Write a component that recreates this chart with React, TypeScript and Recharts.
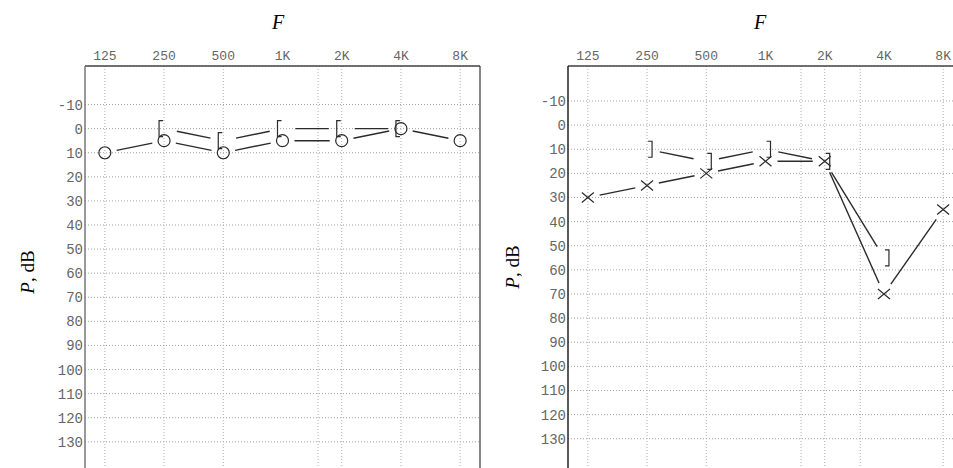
import React from "react"
import { LineChart, Line, XAxis, YAxis, CartesianGrid, ReferenceLine } from "recharts"

const freqLabels = ["125", "250", "500", "1K", "2K", "4K", "8K"]
const dbTicks = [-10, 0, 10, 20, 30, 40, 50, 60, 70, 80, 90, 100, 110, 120, 130]

// left audiogram: O = air, [ = bone
const leftAir = [10, 5, 10, 5, 5, 0, 5]
const leftBone = [null, 0, 5, 0, 0, 0, null]
// right audiogram: X = air, ] = bone
const rightAir = [30, 25, 20, 15, 15, 70, 35]
const rightBone = [null, 10, 15, 10, 15, 55, null]

// extra dotted verticals the form prints (half-octave lines)
const leftGridX = [0, 1, 2, 3.6, 4, 5, 6]
const rightGridX = [0, 1, 2, 3.6, 4, 4.6, 6]

const INK = "#2b2b2b"
const X_DOMAIN: [number, number] = [-0.335, 6.335]

type Sym = "circle" | "cross" | "lbracket" | "rbracket"

const drawSymbol = (sym: Sym, x: number, y: number) => {
  const common = { stroke: INK, strokeWidth: 1.2, fill: "none" }
  if (sym === "circle") return <circle cx={x} cy={y} r={6} {...common} />
  if (sym === "cross")
    return <path d={`M${x - 6},${y - 5}L${x + 6},${y + 5}M${x - 6},${y + 5}L${x + 6},${y - 5}`} {...common} />
  if (sym === "lbracket") return <path d={`M${x - 1},${y - 8}H${x - 5}V${y + 8}H${x - 1}`} {...common} />
  return <path d={`M${x + 1},${y - 8}H${x + 5}V${y + 8}H${x + 1}`} {...common} />
}

// each dot draws its symbol plus the segment to the next point, with a gap at both ends
const makeDot = (sym: Sym, gap: number) => (props: any) => {
  const { cx, cy, index, points, key } = props
  if (cx == null || cy == null || Number.isNaN(cy)) return <g key={key} />
  const next = points ? points[index + 1] : null
  let seg = null
  if (next && next.x != null && next.y != null && !Number.isNaN(next.y)) {
    const dx = next.x - cx
    const dy = next.y - cy
    const len = Math.hypot(dx, dy)
    if (len > gap * 2) {
      const ux = dx / len
      const uy = dy / len
      seg = (
        <line
          x1={cx + ux * gap}
          y1={cy + uy * gap}
          x2={next.x - ux * gap}
          y2={next.y - uy * gap}
          stroke={INK}
          strokeWidth={1.4}
        />
      )
    }
  }
  return (
    <g key={key}>
      {seg}
      {drawSymbol(sym, cx, cy)}
    </g>
  )
}

interface AudiogramProps {
  air: (number | null)[]
  bone: (number | null)[]
  airSym: Sym
  boneSym: Sym
  gridX: number[]
  yMin: number
  width: number
  height: number
  axisWidth: number
  marginRight: number
  titleX: number
  labelX: number
  labelY: number
  axisColor: string
  rightBorder?: boolean
}

const Audiogram: React.FC<AudiogramProps> = ({
  air,
  bone,
  airSym,
  boneSym,
  gridX,
  yMin,
  width,
  height,
  axisWidth,
  marginRight,
  titleX,
  labelX,
  labelY,
  axisColor,
  rightBorder,
}) => {
  const data = freqLabels.map((f, i) => ({ x: i, freq: f, air: air[i], bone: bone[i] }))
  return (
    <LineChart width={width} height={height} data={data} margin={{ top: 0, right: marginRight, left: 0, bottom: 10 }}>
      <CartesianGrid vertical={false} stroke="#a4a4a4" strokeDasharray="1 2" />
      {gridX.map((v) => (
        <ReferenceLine key={v} x={v} stroke="#b0b0b0" strokeDasharray="1 2" />
      ))}
      {rightBorder && <ReferenceLine x={X_DOMAIN[1]} stroke="#444" strokeWidth={1.3} />}
      <XAxis
        type="number"
        dataKey="x"
        orientation="top"
        domain={X_DOMAIN}
        ticks={[0, 1, 2, 3, 4, 5, 6]}
        tickFormatter={(v: number) => freqLabels[v] ?? ""}
        height={66}
        tickSize={0}
        tickMargin={6}
        axisLine={{ stroke: "#444", strokeWidth: 1.3 }}
        tick={{ fontSize: 13, fill: "#666", fontFamily: "Liberation Mono" }}
        allowDataOverflow
        label={{
          content: () => (
            <text x={titleX} y={29} textAnchor="middle" fontFamily="Liberation Serif" fontStyle="italic" fontSize={20} fill="#000">
              F
            </text>
          ),
        }}
      />
      <YAxis
        type="number"
        reversed
        domain={[yMin, 150]}
        ticks={dbTicks}
        width={axisWidth}
        tickSize={0}
        tickMargin={2}
        axisLine={{ stroke: axisColor, strokeWidth: 1.5 }}
        tick={{ fontSize: 14, fill: "#666", fontFamily: "Liberation Mono" }}
        allowDataOverflow
        label={{
          content: () => (
            <text
              x={labelX}
              y={labelY}
              transform={`rotate(-90, ${labelX}, ${labelY})`}
              textAnchor="middle"
              dominantBaseline="central"
              fontFamily="Liberation Serif"
              fontSize={19}
              fill="#000"
            >
              <tspan fontStyle="italic">P</tspan>
              <tspan>, dB</tspan>
            </text>
          ),
        }}
      />
      <Line
        type="linear"
        dataKey="air"
        stroke="none"
        isAnimationActive={false}
        dot={makeDot(airSym, 12)}
        activeDot={false}
      />
      <Line
        type="linear"
        dataKey="bone"
        stroke="none"
        isAnimationActive={false}
        dot={makeDot(boneSym, 13)}
        activeDot={false}
      />
    </LineChart>
  )
}

export default function App() {
  return (
    <div
      style={{
        position: "fixed",
        left: 0,
        top: 0,
        width: 953,
        height: 468,
        overflow: "hidden",
        background: "#fff",
      }}
    >
      <div style={{ position: "absolute", left: 0, top: 0 }}>
        <Audiogram
          air={leftAir}
          bone={leftBone}
          airSym="circle"
          boneSym="lbracket"
          gridX={leftGridX}
          yMin={-26}
          width={500}
          height={500}
          axisWidth={85}
          marginRight={20}
          titleX={278}
          labelX={27}
          labelY={272}
          axisColor="#777"
          rightBorder
        />
      </div>
      <div style={{ position: "absolute", left: 484, top: 0 }}>
        <Audiogram
          air={rightAir}
          bone={rightBone}
          airSym="cross"
          boneSym="rbracket"
          gridX={rightGridX}
          yMin={-24.5}
          width={500}
          height={497}
          axisWidth={84}
          marginRight={21}
          titleX={276}
          labelX={28}
          labelY={267}
          axisColor="#222"
        />
      </div>
    </div>
  )
}
